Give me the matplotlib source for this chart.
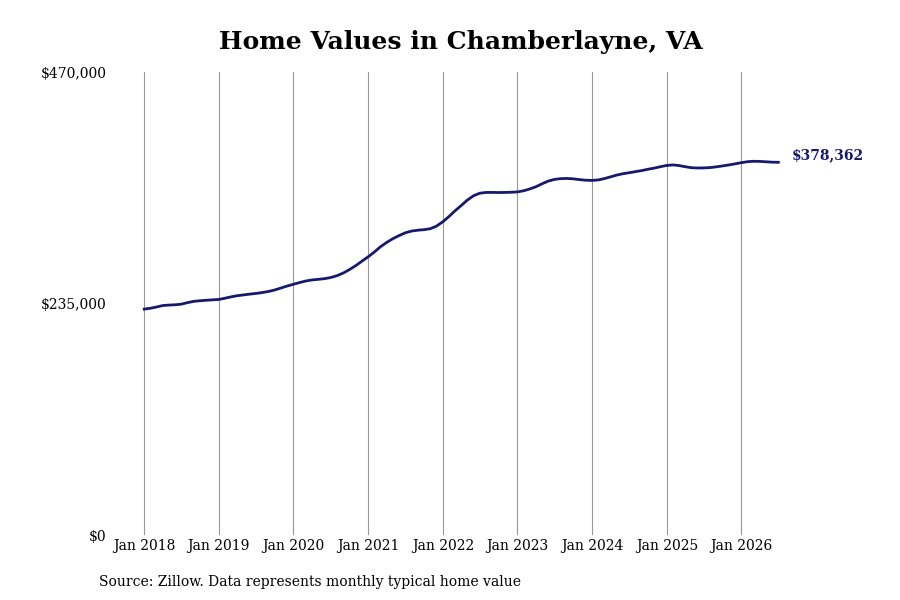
import matplotlib
matplotlib.use('Agg')
import matplotlib.pyplot as plt
import pandas as pd

# monthly typical home value, Jan 2018 onwards
values = [
    229400, 230300, 231500, 233000, 233500, 233800, 234400, 236000, 237300, 237900, 238400, 238800,
    239200, 240500, 241800, 243000, 243800, 244600, 245300, 246200, 247300, 248800, 250800, 252800,
    254600, 256400, 257900, 259000, 259600, 260300, 261400, 263300, 266000, 269500, 273500, 278000,
    282500, 287500, 292500, 297000, 300800, 304000, 306800, 308600, 309500, 310000, 311000, 313600,
    318000, 323500, 329000, 334500, 340000, 344500, 347000, 347800, 347800, 347700, 347800, 348000,
    348300, 349500, 351200, 353500, 356500, 359300, 361000, 361800, 362000, 361600, 360800, 360200,
    360000, 360500, 361800, 363600, 365400, 366800, 367800, 368900, 370000, 371300, 372500, 373900,
    375200, 375700, 375100, 373900, 372900, 372600, 372700, 373000, 373800, 374700, 375700, 376800,
    378000, 379000, 379400, 379300, 378900, 378500, 378362,
]
dates = pd.date_range('2018-01-01', periods=len(values), freq='MS')

y_ticks = [0, 235000, 470000]
y_labels = ['$0', '$235,000', '$470,000']
x_ticks = pd.date_range('2018-01-01', '2026-01-01', freq='YS')
x_labels = [f"Jan {d.year}" for d in x_ticks]

title = 'Home Values in Chamberlayne, VA'
source = 'Source: Zillow. Data represents monthly typical home value'

line_color = '#18186c'

plt.rcParams['font.family'] = ['DejaVu Serif']

fig = plt.figure(figsize=(9, 6), dpi=100)
ax = fig.add_axes([0.128, 0.108, 0.75, 0.772])

ax.plot(dates, values, color=line_color, linewidth=2)

ax.set_ylim(0, 470000)
ax.set_xlim(pd.Timestamp('2017-08-12'), pd.Timestamp('2026-08-28'))
ax.set_yticks(y_ticks)
ax.set_yticklabels(y_labels, fontsize=10)
ax.set_xticks(x_ticks)
ax.set_xticklabels(x_labels, fontsize=10)
ax.tick_params(axis='both', length=0)
ax.tick_params(axis='x', pad=3)
ax.tick_params(axis='y', pad=6)

ax.grid(axis='x', color='#999999', linewidth=0.8)
ax.grid(axis='y', visible=False)
for s in ax.spines.values():
    s.set_visible(False)

# end label
ax.annotate(f"${values[-1]:,}", xy=(dates[-1], values[-1]), xytext=(9.5, 5),
            textcoords='offset points', fontsize=10, fontweight='bold',
            color=line_color, va='center', ha='left')

fig.text(0.512, 0.93, title, ha='center', va='center', fontsize=18, fontweight='bold')
fig.text(0.11, 0.03, source, ha='left', va='center', fontsize=10)

fig.savefig('out.png', dpi=100)
